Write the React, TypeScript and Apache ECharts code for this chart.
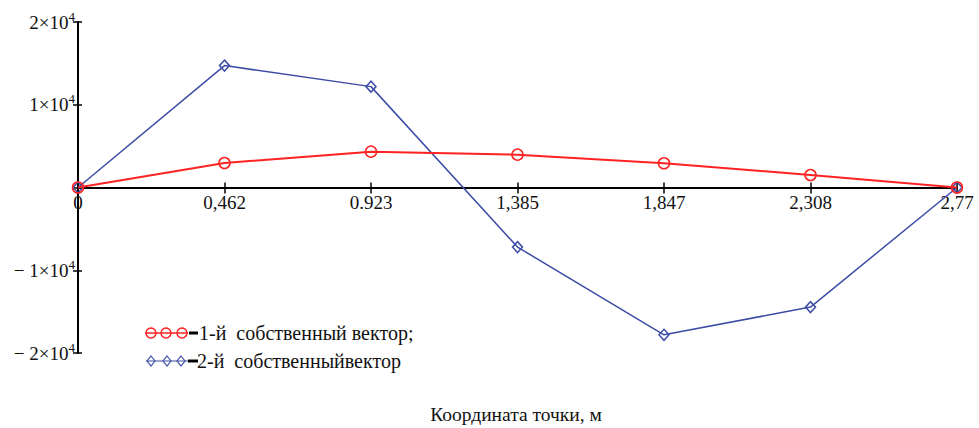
import React, { useEffect, useRef } from "react";
import * as echarts from "echarts";

const categories = ["0", "0,462", "0.923", "1,385", "1,847", "2,308", "2,77"];
const firstVector = [0, 2960, 4330, 3970, 2930, 1510, 0];
const secondVector = [0, 14730, 12190, -7200, -17800, -14450, 0];
const legendLabels = ["1-й  собственный вектор;", "2-й  собственныйвектор"];
const axisTitle = "Координата точки, м";

const RED = "#ff2222";
const BLUE = "#3d4ca6";
const FONT = "Liberation Serif";

const GRID_TOP = 22;
const GRID_BOTTOM = 75;
const H = 428;

export default function App() {
  const ref = useRef<HTMLDivElement>(null);
  useEffect(() => {
    if (!ref.current) return;
    const chart = echarts.init(ref.current, null, { renderer: "svg" });
    const diamond = (cx: number, cy: number) => [
      [cx, cy - 5],
      [cx + 4, cy],
      [cx, cy + 5],
      [cx - 4, cy],
    ];
    const gridH = H - GRID_TOP - GRID_BOTTOM;
    const tickStyle = { color: "#000", width: 1.5 };
    chart.setOption({
      animation: false,
      backgroundColor: "#ffffff",
      grid: { left: 78, right: 22, top: GRID_TOP, bottom: GRID_BOTTOM, containLabel: false },
      xAxis: [
        {
          type: "category",
          data: categories,
          boundaryGap: false,
          position: "bottom",
          offset: -gridH / 2,
          axisLine: { onZero: false, lineStyle: { color: "#000", width: 2 } },
          axisTick: { show: true, alignWithLabel: true, length: 6, lineStyle: tickStyle },
          axisLabel: {
            color: "#111",
            fontFamily: FONT,
            fontSize: 19,
            margin: 5,
            interval: 0,
            showMinLabel: true,
            showMaxLabel: true,
          },
          splitLine: { show: false },
        },
        {
          type: "category",
          data: categories,
          boundaryGap: false,
          position: "bottom",
          offset: -gridH / 2,
          axisLine: { show: false, onZero: false },
          axisTick: { show: true, inside: true, alignWithLabel: true, length: 5, lineStyle: tickStyle },
          axisLabel: { show: false },
          splitLine: { show: false },
        },
      ],
      yAxis: [
        {
          type: "value",
          min: -20000,
          max: 20000,
          interval: 10000,
          axisLine: { show: true, lineStyle: { color: "#000", width: 2 } },
          axisTick: { show: true, length: 5, lineStyle: tickStyle },
          splitLine: { show: false },
          axisLabel: {
            margin: 3,
            color: "#111",
            fontFamily: FONT,
            fontSize: 19,
            formatter: (v: number) => {
              if (v === 0) return "";
              const n = v / 10000;
              const sign = n < 0 ? "− " : "";
              return `{base|${sign}${Math.abs(n)}×10}{sup|4}`;
            },
            rich: {
              base: { fontFamily: FONT, fontSize: 19, color: "#111", lineHeight: 22 },
              sup: { fontFamily: FONT, fontSize: 13, color: "#111", padding: [0, 0, 12, 0] },
            },
          },
        },
        {
          type: "value",
          min: -20000,
          max: 20000,
          interval: 10000,
          position: "left",
          offset: 0,
          axisLine: { show: false },
          axisTick: { show: true, inside: true, length: 4, lineStyle: tickStyle },
          splitLine: { show: false },
          axisLabel: { show: false },
        },
      ],
      series: [
        {
          type: "line",
          data: firstVector,
          symbol: "circle",
          symbolSize: 11,
          lineStyle: { color: RED, width: 2 },
          itemStyle: { color: "rgba(255,255,255,0)", borderColor: RED, borderWidth: 1.5 },
          z: 3,
        },
        {
          type: "line",
          data: secondVector,
          symbol: "diamond",
          symbolSize: [10, 11],
          lineStyle: { color: BLUE, width: 1.5 },
          itemStyle: { color: "rgba(255,255,255,0)", borderColor: BLUE, borderWidth: 1.5 },
          z: 2,
        },
      ],
      graphic: [
        { type: "line", shape: { x1: 145, y1: 333, x2: 188, y2: 333 }, style: { stroke: RED, lineWidth: 1.5 } },
        { type: "circle", shape: { cx: 151, cy: 333, r: 5 }, style: { stroke: RED, fill: "none", lineWidth: 1.5 } },
        { type: "circle", shape: { cx: 166, cy: 333, r: 5 }, style: { stroke: RED, fill: "none", lineWidth: 1.5 } },
        { type: "circle", shape: { cx: 182, cy: 333, r: 5 }, style: { stroke: RED, fill: "none", lineWidth: 1.5 } },
        { type: "rect", shape: { x: 189, y: 331.5, width: 9, height: 3 }, style: { fill: "#000" } },
        {
          type: "text",
          x: 199,
          y: 333,
          style: { text: legendLabels[0], font: `20px ${FONT}`, fill: "#111", verticalAlign: "middle", align: "left" },
        },
        { type: "line", shape: { x1: 146, y1: 361, x2: 188, y2: 361 }, style: { stroke: BLUE, lineWidth: 1.2 } },
        { type: "polygon", shape: { points: diamond(151, 361) }, style: { stroke: BLUE, fill: "none", lineWidth: 1.2 } },
        { type: "polygon", shape: { points: diamond(167, 361) }, style: { stroke: BLUE, fill: "none", lineWidth: 1.2 } },
        { type: "polygon", shape: { points: diamond(181, 361) }, style: { stroke: BLUE, fill: "none", lineWidth: 1.2 } },
        { type: "rect", shape: { x: 188, y: 359.5, width: 10, height: 3 }, style: { fill: "#000" } },
        {
          type: "text",
          x: 197,
          y: 361,
          style: { text: legendLabels[1], font: `20px ${FONT}`, fill: "#111", verticalAlign: "middle", align: "left" },
        },
        {
          type: "text",
          x: 516,
          y: 414,
          style: { text: axisTitle, font: `19.5px ${FONT}`, fill: "#111", verticalAlign: "middle", align: "center" },
        },
      ],
    });
    return () => chart.dispose();
  }, []);
  return (
    <div
      ref={ref}
      style={{ position: "fixed", left: 0, top: 0, width: 979, height: 428, background: "#fff" }}
    />
  );
}
